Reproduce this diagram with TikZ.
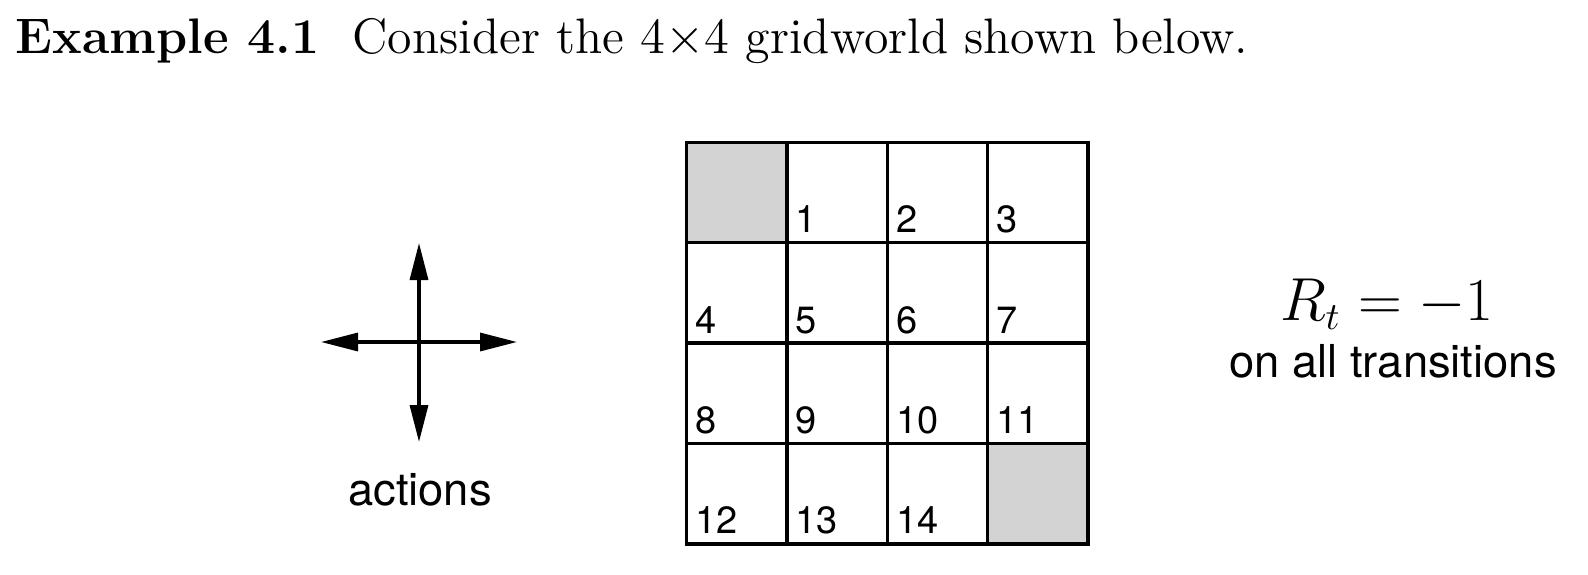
\documentclass[tikz,border=0pt]{standalone}
\usepackage{amsmath}
\usepackage{fontspec}
\setsansfont{TeX Gyre Heros}
\usepackage{tikz}
\usetikzlibrary{arrows.meta,calc}
\definecolor{cellgray}{RGB}{211,211,211}
\tikzset{gridline/.style={line width=0.95pt,line cap=rect},
  cellnum/.style={anchor=base west,inner sep=0pt,font=\sffamily\fontsize{10.8}{13}\selectfont},
  move/.style={line width=0.95pt,-{Triangle[length=3.7mm,width=1.8mm]}},
  sftext/.style={anchor=base,inner sep=0pt,font=\sffamily\fontsize{12.9}{15}\selectfont}}

\begin{document}
\begin{tikzpicture}
          \useasboundingbox (0,0) rectangle (15.88,-5.74);
          \def\gx{6.865} \def\gy{-5.439}

          \node[anchor=base west,inner sep=0pt] (ex) at (0.15,-0.53)
            {\fontsize{14.2}{17}\selectfont\bfseries Example 4.1};
          \node[anchor=base west,inner sep=0pt] (title) at (3.52,-0.53)
            {\fontsize{14.2}{17}\selectfont Consider the $4{\times}4$ gridworld shown below.};

          % actions
          \coordinate (o) at (4.19,-3.42);
          \coordinate (up) at (4.19,-2.43);
          \coordinate (down) at (4.19,-4.42);
          \coordinate (left) at (3.21,-3.42);
          \coordinate (right) at (5.17,-3.42);
          \draw[move] (o) -- (up);
          \draw[move] (o) -- (down);
          \draw[move] (o) -- (left);
          \draw[move] (o) -- (right);
          \node[sftext] (actions) at (4.20,-5.05) {actions};

          % gridworld
          \begin{scope}[shift={(\gx,\gy)},x=1.004cm,y=1.004cm]
            \fill[cellgray] (0,3) rectangle (1,4);
            \fill[cellgray] (3,0) rectangle (4,1);
            \foreach \i in {0,...,4} {
              \draw[gridline] (\i,0) -- (\i,4);
              \draw[gridline] (0,\i) -- (4,\i);
            }
            \foreach \s in {1,...,14} {
              \pgfmathtruncatemacro\c{mod(\s,4)}
              \pgfmathtruncatemacro\r{3-div(\s,4)}
              \node[cellnum] (s\s) at (\c+0.08,\r+0.10) {\s};
            }
          \end{scope}

          % reward
          \node[anchor=base,inner sep=0pt] (rew) at (13.87,-3.20)
            {\fontsize{16}{19}\selectfont $R_t=-1$};
          \node[sftext] (trans) at (13.93,-3.77) {on all transitions};
\end{tikzpicture}
\end{document}
